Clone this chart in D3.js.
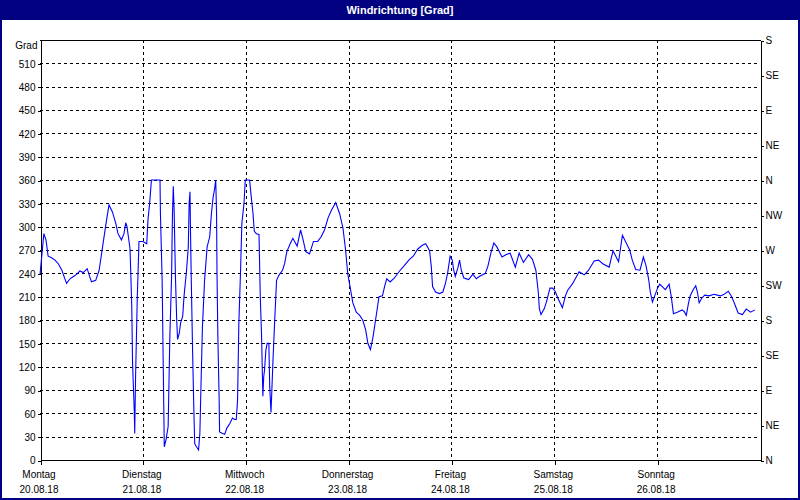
<!DOCTYPE html>
<html>
<head>
<meta charset="utf-8">
<script src="https://cdn.jsdelivr.net/npm/d3@7"></script>
<style>
  html, body { margin: 0; padding: 0; background: #fff; }
  svg { display: block; }
  text { font-family: "Liberation Sans", Arial, sans-serif; font-size: 10px; fill: #000; }
</style>
</head>
<body>
<svg id="chart" width="800" height="500"></svg>
<script>
// ---------- data ----------
const title = "Windrichtung [Grad]";
const yUnit = "Grad";
const dayNames = ["Montag", "Dienstag", "Mittwoch", "Donnerstag", "Freitag", "Samstag", "Sonntag"];
const dayDates = ["20.08.18", "21.08.18", "22.08.18", "23.08.18", "24.08.18", "25.08.18", "26.08.18"];
const leftTicks = [0, 30, 60, 90, 120, 150, 180, 210, 240, 270, 300, 330, 360, 390, 420, 450, 480, 510];
const rightTicks = [0, 45, 90, 135, 180, 225, 270, 315, 360, 405, 450, 495, 540];
const rightLabels = ["N", "NE", "E", "SE", "S", "SW", "W", "NW", "N", "NE", "E", "SE", "S"];
// hours since Monday 00:00
const hours = [
  0, 0.9, 1.4, 1.9, 2.7, 3.5, 4.3, 5.1, 5.6, 6.2, 7.0, 7.8, 8.6, 9.3, 10.1, 11.0, 12.0, 13.0, 13.8, 14.6,
  15.4, 16.1, 16.9, 17.7, 18.2, 19.0, 19.6, 20.0, 20.3, 21.0, 21.4, 21.6, 22.0, 22.1, 22.3, 22.7, 23.1, 24.0, 24.9, 25.2,
  25.6, 26.0, 28.0, 28.1, 28.5, 28.7, 29.0, 29.4, 29.9, 30.3, 30.7, 30.9, 31.1, 31.3, 31.6, 31.9, 32.1, 32.5, 32.8, 33.3,
  33.6, 34.2, 34.6, 34.8, 35.0, 35.1, 35.3, 35.6, 35.9, 36.1, 36.5, 37.0, 37.3, 37.5, 37.9, 38.4, 39.0, 39.6, 40.0, 40.4,
  40.8, 41.0, 41.2, 41.3, 41.5, 41.8, 41.9, 42.6, 43.1, 43.6, 44.3, 44.9, 45.4, 45.8, 46.1, 46.4, 46.8, 47.1, 47.6, 47.9,
  48.9, 49.3, 49.7, 50.0, 50.5, 51.1, 51.4, 51.7, 52.0, 52.2, 52.4, 52.7, 53.0, 53.4, 53.6, 53.9, 54.1, 54.4, 54.8, 55.2,
  55.8, 56.6, 57.1, 57.6, 58.3, 59.0, 60.0, 60.8, 61.4, 62.0, 62.9, 63.8, 64.8, 65.6, 66.4, 67.2, 68.0, 69.0, 69.9, 70.7,
  71.3, 71.8, 72.4, 73.0, 73.8, 74.6, 75.3, 76.0, 76.5, 77.1, 77.7, 78.3, 79.1, 79.9, 80.4, 80.9, 81.7, 82.7, 83.9, 85.0,
  86.2, 87.1, 88.1, 89.2, 90.0, 90.9, 91.3, 91.6, 92.3, 93.2, 94.0, 94.6, 95.1, 95.7, 96.2, 96.5, 96.9, 97.5, 97.9, 98.3,
  98.9, 100.0, 101.0, 101.8, 102.5, 103.9, 104.5, 105.2, 105.9, 106.6, 107.8, 108.7, 109.7, 110.9, 111.8, 112.8, 114.0, 114.9, 115.7, 116.3,
  116.5, 116.9, 117.7, 118.2, 119.0, 119.6, 120.2, 121.0, 121.9, 122.6, 123.1, 124.3, 125.8, 127.0, 128.0, 129.3, 130.3, 131.4, 132.8, 133.7,
  135.0, 135.9, 136.7, 137.6, 138.2, 139.0, 140.0, 140.8, 141.4, 142.0, 142.4, 142.9, 143.5, 144.1, 144.6, 145.2, 145.9, 146.8, 147.3, 147.8,
  148.7, 149.8, 150.3, 150.8, 151.3, 151.7, 152.4, 153.0, 153.4, 153.8, 154.4, 155.1, 156.1, 157.3, 158.0, 158.8, 159.6, 160.6, 161.4, 162.2,
  162.9, 163.9, 164.8, 165.8, 166.8
];
const direction = [
  238, 291, 283, 262, 260, 257, 252, 244, 236, 227, 233, 236, 239, 243, 241, 246, 229, 231, 244, 274,
  304, 328, 319, 304, 291, 283, 291, 305, 300, 272, 201, 124, 62, 34, 107, 209, 281, 281, 278, 309,
  331, 360, 360, 317, 231, 145, 17, 26, 43, 159, 236, 313, 352, 321, 236, 180, 155, 163, 176, 185,
  210, 244, 274, 330, 345, 300, 231, 141, 64, 21, 17, 13, 34, 81, 171, 231, 274, 287, 317, 338,
  351, 360, 317, 240, 159, 77, 36, 34, 33, 41, 47, 54, 52, 52, 77, 176, 244, 304, 330, 360,
  360, 338, 317, 294, 291, 290, 210, 159, 82, 107, 116, 141, 150, 150, 94, 61, 90, 133, 184, 231,
  238, 244, 253, 268, 277, 285, 275, 296, 283, 268, 265, 281, 281, 287, 296, 311, 321, 331, 317, 298,
  270, 240, 221, 202, 190, 186, 180, 167, 150, 142, 158, 180, 210, 211, 223, 233, 229, 234, 243, 250,
  258, 262, 271, 276, 278, 269, 249, 223, 216, 214, 216, 227, 240, 262, 257, 245, 236, 247, 257, 244,
  234, 232, 239, 233, 236, 240, 249, 266, 279, 274, 261, 264, 266, 248, 266, 254, 264, 258, 244, 214,
  195, 187, 195, 204, 221, 221, 217, 206, 196, 211, 218, 227, 242, 238, 244, 256, 257, 252, 248, 269,
  255, 289, 280, 270, 257, 245, 244, 261, 250, 233, 216, 203, 212, 221, 226, 223, 219, 226, 210, 188,
  190, 193, 191, 186, 201, 211, 219, 224, 216, 202, 208, 212, 211, 213, 212, 211, 213, 217, 210, 199,
  189, 187, 194, 190, 193
];

// ---------- layout ----------
const W = 800, H = 500;
const plot = { left: 40, right: 760, top: 40, bottom: 460 };
const navy = "#000080";

const svg = d3.select("#chart");

// frame and title bar
svg.append("rect").attr("x", 0).attr("y", 0).attr("width", W).attr("height", H).attr("fill", "#fff");
svg.append("rect").attr("x", 1).attr("y", 1).attr("width", W - 2).attr("height", H - 2)
  .attr("fill", "none").attr("stroke", navy).attr("stroke-width", 2);
svg.append("rect").attr("x", 0).attr("y", 0).attr("width", W).attr("height", 20).attr("fill", navy);
svg.append("text").attr("x", W / 2).attr("y", 14).attr("text-anchor", "middle")
  .style("fill", "#fff").style("font-weight", "bold").style("font-size", "11px").text(title);

const x = d3.scaleLinear().domain([0, 168]).range([plot.left, plot.right]);
const y = d3.scaleLinear().domain([0, 540]).range([plot.bottom, plot.top]);

const dayTicks = dayNames.map((d, i) => i * 24);

// grid
const grid = svg.append("g").attr("stroke", "#000").attr("stroke-width", 1)
  .attr("stroke-dasharray", "3,3").attr("shape-rendering", "crispEdges");
grid.selectAll("line.h").data(leftTicks.filter(v => v > 0)).join("line")
  .attr("x1", plot.left).attr("x2", plot.right)
  .attr("y1", d => Math.round(y(d)) + 0.5).attr("y2", d => Math.round(y(d)) + 0.5);
grid.selectAll("line.v").data(dayTicks.filter(v => v > 0)).join("line")
  .attr("x1", d => Math.round(x(d)) + 0.5).attr("x2", d => Math.round(x(d)) + 0.5)
  .attr("y1", plot.top).attr("y2", plot.bottom);

// top border
svg.append("line").attr("x1", plot.left).attr("x2", plot.right + 1)
  .attr("y1", plot.top + 0.5).attr("y2", plot.top + 0.5)
  .attr("stroke", "#000").attr("shape-rendering", "crispEdges");

// left axis
const gl = svg.append("g").attr("transform", `translate(${plot.left + 0.5},0.5)`)
  .call(d3.axisLeft(y).tickValues(leftTicks).tickSize(3).tickPadding(2).tickSizeOuter(0));
gl.append("text").attr("x", -3).attr("y", 48).attr("text-anchor", "end").text(yUnit);

// right axis
svg.append("g").attr("transform", `translate(${plot.right + 0.5},0.5)`)
  .call(d3.axisRight(y).tickValues(rightTicks).tickSize(3).tickPadding(2).tickSizeOuter(0)
    .tickFormat((d, i) => rightLabels[i]));

// bottom axis
const gb = svg.append("g").attr("transform", `translate(0.5,${plot.bottom + 0.5})`)
  .call(d3.axisBottom(x).tickValues(dayTicks).tickSize(4).tickSizeOuter(0).tickFormat(""));
gb.select(".domain").attr("d", `M${plot.left},0H${plot.right + 0.5}`);
const tk = gb.selectAll(".tick");
tk.append("text").attr("y", 17).attr("x", -2).attr("text-anchor", "middle").text((d, i) => dayNames[i]);
tk.append("text").attr("y", 32).attr("x", -2).attr("text-anchor", "middle").text((d, i) => dayDates[i]);

svg.selectAll(".domain, .tick line").attr("stroke", "#000").attr("shape-rendering", "crispEdges");
svg.selectAll(".tick text").style("font-family", "'Liberation Sans', Arial, sans-serif").style("font-size", "10px").attr("fill", "#000");

// data line
const pts = hours.map((h, i) => [h, direction[i]]);
svg.append("path").datum(pts)
  .attr("fill", "none").attr("stroke", "#0000ff").attr("stroke-width", 1.1)
  .attr("d", d3.line().x(d => x(d[0])).y(d => y(d[1])));
</script>
</body>
</html>
